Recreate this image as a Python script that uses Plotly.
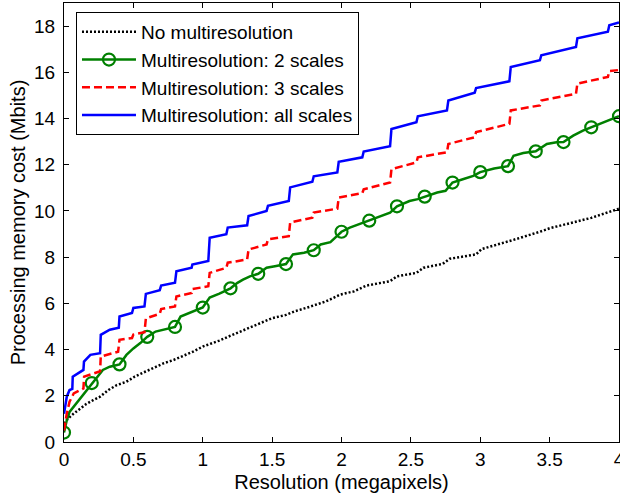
import plotly.graph_objects as go

# ---------------- data ----------------
black_x = [0, 0.03, 0.07, 0.115, 0.16, 0.21, 0.26, 0.32, 0.38, 0.45, 0.51, 0.57, 0.64, 0.72,
           0.79, 0.86, 0.93, 1.0, 1.08, 1.12, 1.2, 1.3, 1.35, 1.4, 1.5, 1.6, 1.66, 1.77, 1.89,
           1.99, 2.09, 2.18, 2.28, 2.35, 2.40, 2.54, 2.59, 2.73, 2.78, 2.97, 3.01, 3.1, 3.24,
           3.43, 3.5, 3.70, 3.8, 3.95, 4.0]
black_y = [0.8, 1.02, 1.23, 1.45, 1.64, 1.81, 1.96, 2.25, 2.46, 2.61, 2.83, 3.0, 3.19, 3.41,
           3.55, 3.73, 3.91, 4.13, 4.3, 4.39, 4.6, 4.85, 5.0, 5.1, 5.36, 5.5, 5.65, 5.85, 6.09,
           6.38, 6.52, 6.77, 6.89, 6.96, 7.17, 7.32, 7.54, 7.71, 7.93, 8.12, 8.35, 8.5, 8.75,
           9.1, 9.25, 9.55, 9.7, 10.0, 10.1]

green_x = [0, 0.02, 0.04, 0.08, 0.115, 0.15, 0.2, 0.24, 0.28, 0.33, 0.4, 0.45, 0.5, 0.55,
           0.6, 0.66, 0.72, 0.8, 0.84, 0.9, 1.0, 1.05, 1.12, 1.2, 1.25, 1.29, 1.34, 1.4, 1.46,
           1.52, 1.6, 1.65, 1.73, 1.8, 1.85, 1.92, 2.0, 2.06, 2.09, 2.16, 2.2, 2.28, 2.35,
           2.4, 2.49, 2.55, 2.6, 2.69, 2.75, 2.8, 2.88, 2.95, 3.0, 3.1, 3.2, 3.24, 3.31, 3.4,
           3.48, 3.55, 3.6, 3.67, 3.74, 3.8, 3.89, 4.0]
green_y = [0.41, 0.94, 1.3, 1.6, 1.89, 2.17, 2.55, 2.83, 3.12, 3.26, 3.36, 3.77, 4.05, 4.28,
           4.55, 4.78, 4.86, 4.98, 5.43, 5.58, 5.82, 6.25, 6.42, 6.65, 6.89, 7.03, 7.17, 7.28,
           7.54, 7.61, 7.7, 8.12, 8.19, 8.3, 8.55, 8.65, 9.1, 9.28, 9.35, 9.49, 9.58, 9.78,
           9.93, 10.2, 10.43, 10.51, 10.62, 10.8, 10.87, 11.23, 11.38, 11.52, 11.68, 11.84,
           11.94, 12.39, 12.51, 12.58, 12.9, 12.97, 12.98, 13.26, 13.48, 13.62, 13.84, 14.1]
green_marker_x = [0, 0.2, 0.4, 0.6, 0.8, 1.0, 1.2, 1.4, 1.6, 1.8, 2.0, 2.2, 2.4, 2.6, 2.8,
                  3.0, 3.2, 3.4, 3.6, 3.8, 4.0]
green_marker_y = [0.41, 2.55, 3.36, 4.55, 4.98, 5.82, 6.65, 7.28, 7.7, 8.3, 9.1, 9.58, 10.2,
                  10.62, 11.23, 11.68, 11.94, 12.58, 12.98, 13.62, 14.1]

red_x = [0, 0.02, 0.04, 0.07, 0.14, 0.145, 0.25, 0.26, 0.265, 0.39, 0.40, 0.49, 0.50, 0.58,
         0.59, 0.69, 0.70, 0.80, 0.81, 0.92, 0.925, 1.04, 1.05, 1.17, 1.18, 1.32, 1.33, 1.46,
         1.47, 1.62, 1.63, 1.79, 1.80, 1.97, 1.98, 2.15, 2.16, 2.35, 2.36, 2.54, 2.55, 2.76,
         2.77, 2.96, 2.97, 3.21, 3.22, 3.43, 3.44, 3.69, 3.70, 3.92, 3.93, 4.0]
red_y = [0.5, 1.23, 1.74, 2.1, 2.32, 2.83, 3.04, 3.06, 3.70, 3.91, 4.42, 4.5, 4.65, 4.75,
         5.35, 5.55, 5.75, 5.87, 6.3, 6.45, 6.62, 6.74, 7.32, 7.54, 7.76, 7.9, 8.33, 8.55,
         8.77, 8.91, 9.5, 9.71, 9.93, 10.1, 10.58, 10.77, 10.94, 11.23, 11.81, 12.1, 12.32,
         12.54, 12.9, 13.19, 13.41, 13.77, 14.35, 14.57, 14.78, 15.07, 15.51, 15.8, 16.05, 16.1]

blue_x = [0, 0.02, 0.04, 0.06, 0.063, 0.14, 0.144, 0.19, 0.26, 0.265, 0.33, 0.395, 0.40,
          0.49, 0.50, 0.58, 0.59, 0.69, 0.70, 0.80, 0.81, 0.92, 0.925, 1.04, 1.05, 1.17,
          1.18, 1.32, 1.33, 1.46, 1.47, 1.62, 1.63, 1.79, 1.80, 1.97, 1.98, 2.15, 2.16, 2.35,
          2.36, 2.54, 2.55, 2.76, 2.77, 2.96, 2.97, 3.21, 3.22, 3.43, 3.44, 3.69, 3.70, 3.92,
          3.93, 4.0]
blue_y = [1.22, 1.96, 2.25, 2.3, 2.83, 3.12, 3.48, 3.77, 3.84, 4.64, 4.86, 4.95, 5.43, 5.58,
          5.80, 5.87, 6.41, 6.57, 6.77, 6.89, 7.39, 7.54, 7.68, 7.83, 8.84, 8.99, 9.28, 9.38,
          9.78, 10.0, 10.22, 10.43, 11.02, 11.26, 11.5, 11.67, 12.13, 12.32, 12.57, 12.8,
          13.55, 13.84, 14.1, 14.35, 14.78, 15.12, 15.32, 15.61, 16.23, 16.52, 16.74, 17.1,
          17.47, 17.76, 18.04, 18.16]

x_ticks = [0, 0.5, 1, 1.5, 2, 2.5, 3, 3.5, 4]
x_tick_text = ["0", "0.5", "1", "1.5", "2", "2.5", "3", "3.5", "4"]
y_ticks = [0, 2, 4, 6, 8, 10, 12, 14, 16, 18]

labels = ["No multiresolution", "Multiresolution: 2 scales",
          "Multiresolution: 3 scales", "Multiresolution: all scales"]

BLACK = "#000000"
GREEN = "#008000"
RED = "#ff0000"
BLUE = "#0000ff"
FONT = "Liberation Sans, Arial, sans-serif"

fig = go.Figure()
fig.add_trace(go.Scatter(x=black_x, y=black_y, mode="lines", name=labels[0],
                         line=dict(color=BLACK, width=2.5, dash="2px,2px")))
# green: line + markers, plus a legend-only entry showing both
fig.add_trace(go.Scatter(x=green_x, y=green_y, mode="lines", showlegend=False,
                         line=dict(color=GREEN, width=2.5)))
fig.add_trace(go.Scatter(x=green_marker_x, y=green_marker_y, mode="markers", showlegend=False,
                         marker=dict(symbol="circle-open", size=12, color=GREEN,
                                     line=dict(width=2.2, color=GREEN))))
fig.add_trace(go.Scatter(x=[None], y=[None], mode="lines+markers", name=labels[1],
                         line=dict(color=GREEN, width=2.5),
                         marker=dict(symbol="circle-open", size=12, color=GREEN,
                                     line=dict(width=2.2, color=GREEN))))
fig.add_trace(go.Scatter(x=red_x, y=red_y, mode="lines", name=labels[2],
                         line=dict(color=RED, width=2.5, dash="8px,4px")))
fig.add_trace(go.Scatter(x=blue_x, y=blue_y, mode="lines", name=labels[3],
                         line=dict(color=BLUE, width=2.5)))

axis_common = dict(showline=True, linecolor="black", linewidth=1, mirror="ticks",
                   ticks="inside", ticklen=5, tickwidth=1, tickcolor="black",
                   showgrid=False, zeroline=False, ticklabeloverflow="allow",
                   tickfont=dict(family=FONT, size=19, color="black"))

fig.update_xaxes(range=[0, 4], tickvals=x_ticks, ticktext=x_tick_text,
                 title=dict(text="Resolution (megapixels)", standoff=6,
                            font=dict(family=FONT, size=20, color="black")),
                 **axis_common)
fig.update_yaxes(range=[0, 19], tickvals=y_ticks, ticklabelstandoff=4,
                 title=dict(text="Processing memory cost (Mbits)", standoff=3,
                            font=dict(family=FONT, size=20, color="black")),
                 **axis_common)

fig.update_layout(
    width=620, height=498,
    margin=dict(l=64, r=1, t=3, b=56, autoexpand=False),
    paper_bgcolor="white", plot_bgcolor="white",
    font=dict(family=FONT, size=20, color="black"),
    showlegend=True,
    legend=dict(x=0.0216, y=0.9795, xanchor="left", yanchor="top",
                bgcolor="white", bordercolor="black", borderwidth=1,
                font=dict(family=FONT, size=19, color="black"),
                itemwidth=54, tracegroupgap=0),
)

fig.write_html("out.html",
               config={"displayModeBar": False},
               post_script="document.body.style.margin='0';"
                           "document.body.style.overflow='hidden';")
